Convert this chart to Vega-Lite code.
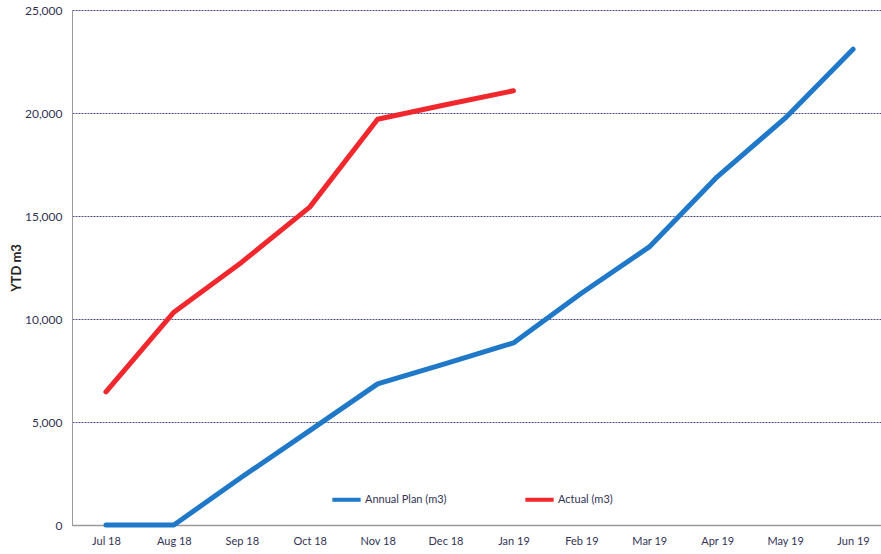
{
  "$schema": "https://vega.github.io/schema/vega-lite/v6.json",
  "width": 815,
  "height": 515,
  "autosize": "none",
  "padding": {"left": 72, "top": 10, "right": 0, "bottom": 29},
  "background": "white",
  "config": {
    "font": "Lato",
    "view": {"stroke": null}
  },
  "data": {
    "values": [
      {"month": "Jul 18", "series": "Annual Plan (m3)", "value": 0},
      {"month": "Aug 18", "series": "Annual Plan (m3)", "value": 0},
      {"month": "Sep 18", "series": "Annual Plan (m3)", "value": 2330},
      {"month": "Oct 18", "series": "Annual Plan (m3)", "value": 4580},
      {"month": "Nov 18", "series": "Annual Plan (m3)", "value": 6850},
      {"month": "Dec 18", "series": "Annual Plan (m3)", "value": 7830},
      {"month": "Jan 19", "series": "Annual Plan (m3)", "value": 8840},
      {"month": "Feb 19", "series": "Annual Plan (m3)", "value": 11250},
      {"month": "Mar 19", "series": "Annual Plan (m3)", "value": 13500},
      {"month": "Apr 19", "series": "Annual Plan (m3)", "value": 16900},
      {"month": "May 19", "series": "Annual Plan (m3)", "value": 19750},
      {"month": "Jun 19", "series": "Annual Plan (m3)", "value": 23100},
      {"month": "Jul 18", "series": "Actual (m3)", "value": 6460},
      {"month": "Aug 18", "series": "Actual (m3)", "value": 10330},
      {"month": "Sep 18", "series": "Actual (m3)", "value": 12760},
      {"month": "Oct 18", "series": "Actual (m3)", "value": 15430},
      {"month": "Nov 18", "series": "Actual (m3)", "value": 19700},
      {"month": "Dec 18", "series": "Actual (m3)", "value": 20400},
      {"month": "Jan 19", "series": "Actual (m3)", "value": 21080}
    ]
  },
  "mark": {"type": "line", "strokeWidth": 5, "strokeCap": "round", "strokeJoin": "round"},
  "encoding": {
    "x": {
      "field": "month",
      "type": "ordinal",
      "sort": ["Jul 18", "Aug 18", "Sep 18", "Oct 18", "Nov 18", "Dec 18", "Jan 19", "Feb 19", "Mar 19", "Apr 19", "May 19", "Jun 19"],
      "scale": {"type": "point", "padding": 0.5},
      "axis": {
        "title": null,
        "labelAngle": 0,
        "ticks": false,
        "grid": false,
        "domain": true,
        "domainColor": "#9a9a9a",
        "domainWidth": 1.5,
        "labelPadding": 10,
        "labelFontSize": 11,
        "labelColor": "#333355"
      }
    },
    "y": {
      "field": "value",
      "type": "quantitative",
      "scale": {"domain": [0, 25000], "nice": false},
      "axis": {
        "title": "YTD m3",
        "titleFontSize": 13,
        "titleFontWeight": "bold",
        "titleColor": "#222222",
        "titlePadding": 1,
        "values": [0, 5000, 10000, 15000, 20000, 25000],
        "format": ",.0f",
        "ticks": false,
        "domain": true,
        "domainColor": "#9a9a9a",
        "labelPadding": 10,
        "labelFontSize": 12,
        "labelColor": "#333355",
        "grid": true,
        "gridColor": "#4a4a8c",
        "gridDash": [2, 1],
        "gridWidth": 1
      }
    },
    "color": {
      "field": "series",
      "type": "nominal",
      "scale": {"domain": ["Annual Plan (m3)", "Actual (m3)"], "range": ["#1f78c8", "#f0282d"]},
      "legend": {
        "title": null,
        "orient": "none",
        "legendX": 258,
        "legendY": 473,
        "direction": "horizontal",
        "symbolType": "stroke",
        "symbolSize": 800,
        "symbolStrokeWidth": 4,
        "labelFontSize": 11,
        "labelColor": "#333355",
        "labelOffset": 2,
        "columnPadding": 70
      }
    }
  }
}
